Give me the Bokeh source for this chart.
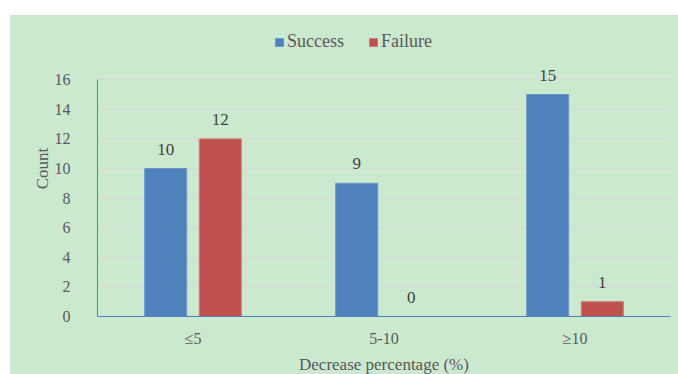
from bokeh.plotting import figure
from bokeh.models import (ColumnDataSource, FactorRange, Range1d, Legend, LegendItem,
                          Spacer, FixedTicker)
from bokeh.layouts import column, row
from bokeh.transform import dodge
from bokeh.core.properties import value
from bokeh.embed import file_html
from bokeh.resources import INLINE

# Outcome counts per decrease-percentage bucket
categories = ["≤5", "5-10", "≥10"]
success = [10, 9, 15]
failure = [12, 0, 1]
y_ticks = [0, 2, 4, 6, 8, 10, 12, 14, 16]

BG = "#CAE9CF"
BLUE = "#4F81BD"
RED = "#C0504D"
FONT = "Liberation Serif"
GREY = "#595959"

source = ColumnDataSource(data=dict(
    cat=categories,
    success=success,
    failure=failure,
    success_lbl=[str(v) for v in success],
    failure_lbl=[str(v) for v in failure],
))

# The frame reaches up past the top tick so the legend can sit in it;
# the y axis line and the grid stop at 16.
p = figure(
    x_range=FactorRange(factors=categories, range_padding=0),
    y_range=Range1d(0, 20),
    frame_width=573, frame_height=296,
    min_border_left=87, min_border_right=8,
    min_border_top=5, min_border_bottom=58,
    output_backend="svg", toolbar_location=None,
    background_fill_alpha=0, border_fill_alpha=0,
    outline_line_color=None,
)
# one flat fill behind the whole canvas
p.styles = {"background-color": BG}

BAR_W = 0.22
OFF = 0.143

r_s = p.vbar(x=dodge("cat", -OFF, range=p.x_range), top="success", width=BAR_W,
             source=source, fill_color=BLUE, line_color="#6E96CC", line_width=1)
r_f = p.vbar(x=dodge("cat", OFF, range=p.x_range), top="failure", width=BAR_W,
             source=source, fill_color=RED, line_color="#CF7A78", line_width=1)

# value labels above bars
for col, off in (("success", -OFF), ("failure", OFF)):
    p.text(x=dodge("cat", off, range=p.x_range), y=col, text=col + "_lbl",
           source=source, text_align="center", text_baseline="bottom",
           y_offset=-14, text_font=value(FONT), text_font_size="17px",
           text_color="#404040")

# axes
p.yaxis.ticker = FixedTicker(ticks=y_ticks)
p.yaxis.bounds = (0, 16)
p.yaxis.axis_label = "Count"
p.xaxis.axis_label = "Decrease percentage (%)"
for ax in (p.xaxis[0], p.yaxis[0]):
    ax.axis_line_color = BLUE
    ax.axis_line_width = 1
    ax.major_tick_line_color = None
    ax.minor_tick_line_color = None
    ax.major_label_text_font = FONT
    ax.major_label_text_font_size = "16px"
    ax.major_label_text_color = GREY
    ax.axis_label_text_font = FONT
    ax.axis_label_text_font_size = "17px"
    ax.axis_label_text_font_style = "normal"
    ax.axis_label_text_color = GREY
p.yaxis.major_label_standoff = 21
p.yaxis.axis_label_standoff = 0
p.xaxis.major_label_standoff = 7
p.xaxis.axis_label_standoff = 5

p.xgrid.grid_line_color = None
p.ygrid.grid_line_color = "#D9D9D9"
p.ygrid.grid_line_width = 1

legend = Legend(
    items=[LegendItem(label="Success", renderers=[r_s]),
           LegendItem(label="Failure", renderers=[r_f])],
    orientation="horizontal", location=(177, 264),
    glyph_width=10, glyph_height=10, label_standoff=3, spacing=24,
    padding=0, margin=0, label_height=20,
    label_text_font=FONT, label_text_font_size="18px", label_text_color=GREY,
    background_fill_alpha=0, border_line_alpha=0,
)
p.add_layout(legend, "center")

layout = column(Spacer(height=15, width=678),
                row(Spacer(width=10, height=359), p))

open("out.html", "w").write(file_html(layout, INLINE))
